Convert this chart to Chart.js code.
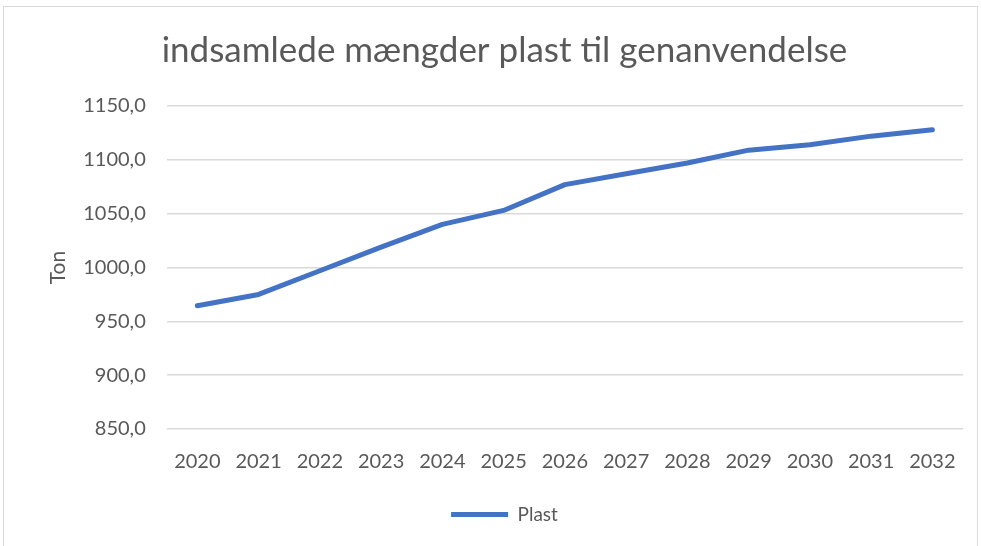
<!DOCTYPE html>
<html>
<head>
<meta charset="utf-8">
<script src="https://cdn.jsdelivr.net/npm/chart.js@4.4.1/dist/chart.umd.min.js"></script>
<style>
  html, body { margin: 0; padding: 0; background: #fff; }
  #frame { position: absolute; left: 3px; top: 6px; width: 975px; height: 560px; border: 1px solid #d9d9d9; box-sizing: border-box; }
  #wrap { position: absolute; left: 0; top: 0; width: 981px; height: 546px; }
</style>
</head>
<body>
<div id="frame"></div>
<div id="wrap"><canvas id="line-chart"></canvas></div>
<script>
const years = ["2020", "2021", "2022", "2023", "2024", "2025", "2026", "2027", "2028", "2029", "2030", "2031", "2032"];
const plast = [964.5, 975, 997, 1019, 1040, 1053, 1077, 1087, 1097, 1109, 1114, 1122, 1128];
const yMin = 850, yMax = 1150, yStep = 50;

Chart.defaults.font.family = "Lato, 'Open Sans', sans-serif";
Chart.defaults.color = "#595959";

new Chart(document.getElementById("line-chart"), {
    type: 'line',
    data: {
      labels: years,
      datasets: [{
        label: "Plast",
        data: plast,
        borderColor: "#4472c4",
        backgroundColor: "#4472c4",
        borderWidth: 5,
        borderCapStyle: 'round',
        borderJoinStyle: 'round',
        pointRadius: 0,
        tension: 0
      }]
    },
    options: {
      responsive: true,
      maintainAspectRatio: false,
      animation: false,
      layout: { padding: { left: 46, right: 18, top: 30, bottom: 12 } },
      plugins: {
        title: {
          display: true,
          text: "indsamlede mængder plast til genanvendelse",
          font: { size: 35, weight: 'normal' },
          color: "#595959",
          padding: { top: 0, bottom: 34 }
        },
        legend: {
          position: 'bottom',
          labels: {
            boxWidth: 57,
            boxHeight: 5,
            font: { size: 19 },
            color: "#595959",
            padding: 18,
            generateLabels: (chart) => Chart.defaults.plugins.legend.labels.generateLabels(chart).map(l => ({ ...l, lineWidth: 0 }))
          }
        },
        tooltip: { enabled: false }
      },
      scales: {
        x: {
          offset: true,
          grid: { display: false },
          border: { display: false },
          ticks: { font: { size: 20 }, color: "#595959", padding: 13, maxRotation: 0 }
        },
        y: {
          min: yMin,
          max: yMax,
          grid: { color: "#d9d9d9", lineWidth: 1.5, drawTicks: false },
          border: { display: false },
          ticks: {
            stepSize: yStep,
            font: { size: 20 },
            color: "#595959",
            padding: 21,
            callback: (v) => v.toFixed(1).replace(".", ",")
          },
          title: {
            display: true,
            text: "Ton",
            font: { size: 21 },
            color: "#595959",
            padding: { top: 0, bottom: -9 }
          }
        }
      }
    }
});
</script>
</body>
</html>
